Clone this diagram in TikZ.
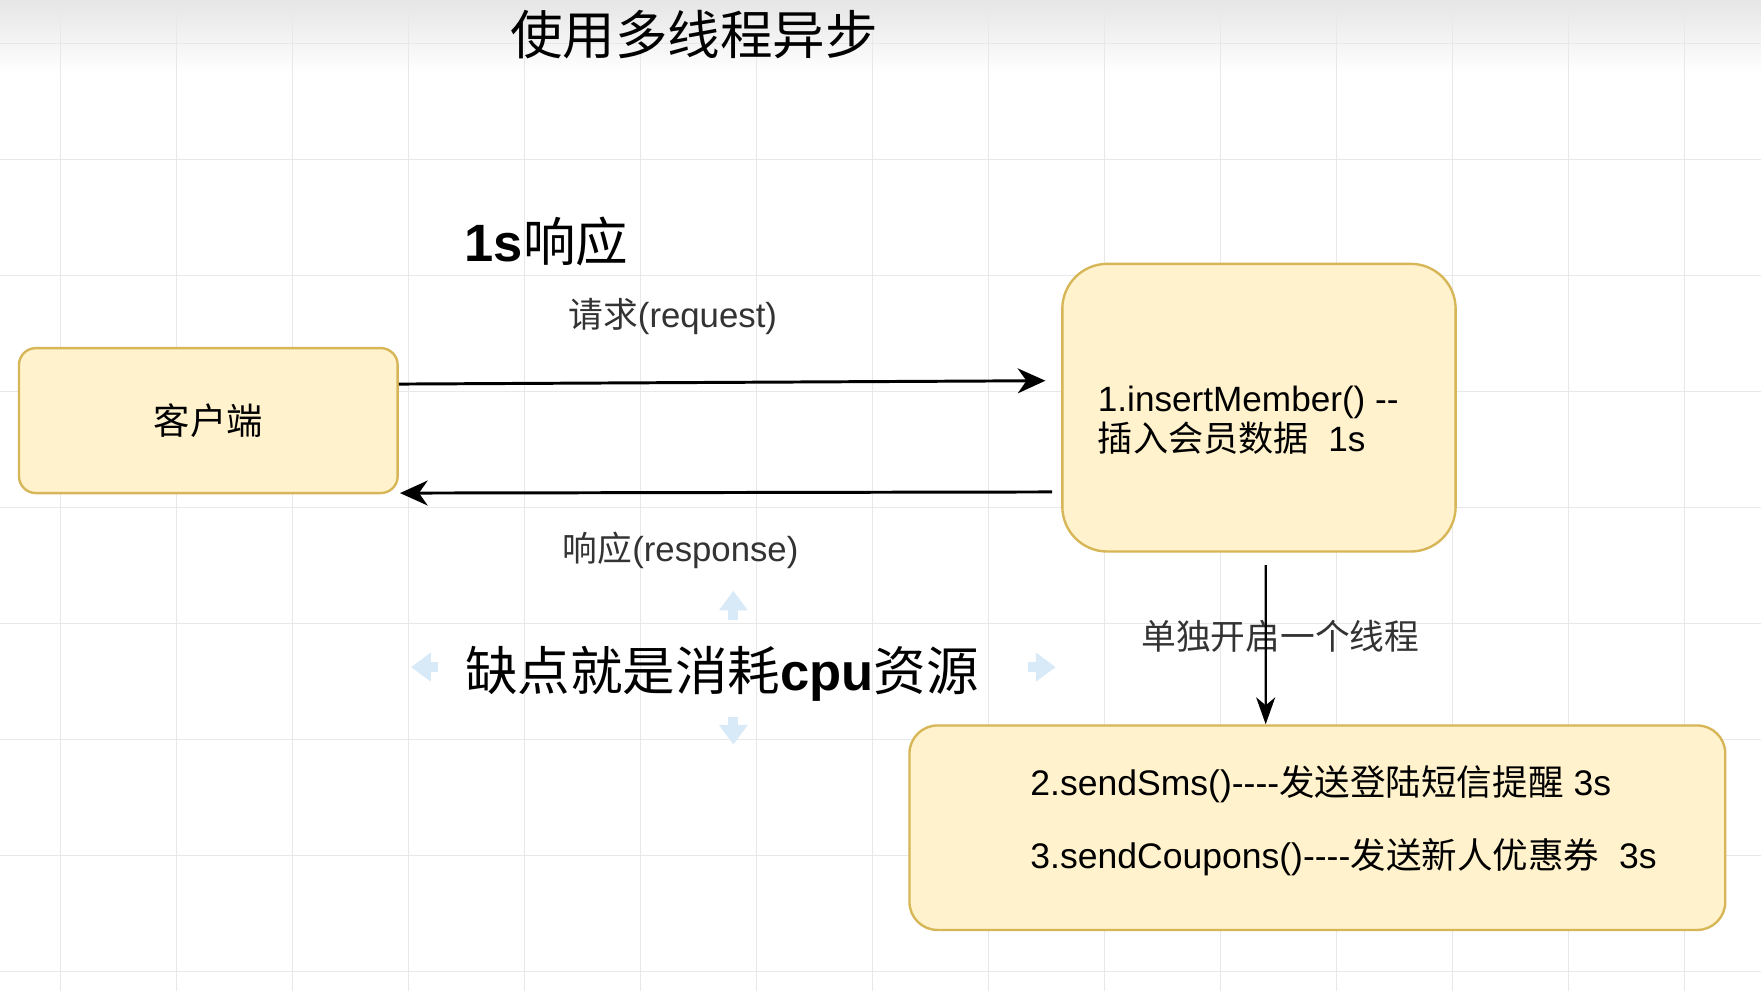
\documentclass[tikz,border=0pt]{standalone}
\usepackage{fontspec}
\setmainfont{Liberation Sans}
\newfontfamily\cjk{Noto Sans CJK SC}
\usepackage{tikz}
\usetikzlibrary{arrows.meta,positioning}
\tikzset{>={Stealth[length=7pt,width=6.3pt,inset=2.2pt]}}
\definecolor{boxfill}{HTML}{FFF2CC}
\definecolor{boxline}{HTML}{D6B656}
\definecolor{gridline}{HTML}{E8E8E8}
\definecolor{hover}{HTML}{D8E9F7}
\newcommand{\zh}[1]{{\cjk #1}}
\newcommand{\hy}{\mbox{-}}

\begin{document}
\begin{tikzpicture}[x=0.01cm, y=-0.01cm,
    box/.style={draw=boxline, fill=boxfill, line width=0.6pt},
    big/.style={font=\fontsize{13.3}{16}\selectfont, inner sep=0pt},
    small/.style={font=\fontsize{8.8}{10.2}\selectfont, text=black!80, inner sep=0pt}]
      \useasboundingbox (0,0) rectangle (1568,882);
      \fill[white] (0,0) rectangle (1568,882);
      \shade[top color=black!10, bottom color=white] (0,0) rectangle (1568,66);

      % grid
      \foreach \t in {0,...,14} {
        \draw[gridline, line width=0.3pt] (54+103.3*\t, 0) -- (54+103.3*\t, 882);
      }
      \foreach \t in {0,...,8} {
        \draw[gridline, line width=0.3pt] (0, 38.5+103.3*\t) -- (1568, 38.5+103.3*\t);
      }

      \node[big](title) at (618, 31) {\zh{使用多线程异步}};
      \node[big, anchor=west](fast) at (413, 215) {\textbf{1s}\zh{响应}};

      \node[box, rounded corners=0.15cm, minimum width=3.37cm, minimum height=1.29cm,
        font=\fontsize{9.2}{11}\selectfont](client) at (185.5, 374.5) {\zh{客户端}};

      \node[box, rounded corners=0.4cm, minimum width=3.5cm, minimum height=2.56cm](insert) at (1121, 363) {};
      \node[small, anchor=west, align=left, text=black, font=\fontsize{8.9}{10.2}\selectfont](inserttxt)
        at ([xshift=0.32cm, yshift=-0.11cm]insert.west)
        {1.insertMember() \hy\hy\\\zh{插入会员数据}\ \ 1s};

      \node[box, rounded corners=0.25cm, minimum width=7.26cm, minimum height=1.82cm](notify) at (1173, 737) {};
      \node[small, anchor=west, align=left, text=black, font=\fontsize{9}{18.5}\selectfont](notifytxt)
        at ([xshift=1.08cm, yshift=0.065cm]notify.west)
        {2.sendSms()\hy\hy\hy\hy\zh{发送登陆短信提醒} 3s\\3.sendCoupons()\hy\hy\hy\hy\zh{发送新人优惠券}\ \ 3s};

      \node[small](reqlbl) at (599, 282) {\zh{请求}(request)};
      \node[small](resplbl) at (606, 490) {\zh{响应}(response)};
      \node[small](threadlbl) at (1140, 567) {\zh{单独开启一个线程}};
      \node[big](cost) at (643, 600) {\zh{缺点就是消耗}\textbf{cpu}\zh{资源}};

      \draw[->, line width=0.75pt] ([yshift=0.325cm]client.east) -- ([xshift=-0.14cm, yshift=0.24cm]insert.west);
      \draw[->, line width=0.75pt] ([xshift=-0.08cm, yshift=-0.75cm]insert.west) -- ([xshift=0.01cm, yshift=-0.645cm]client.east);
      \draw[->, line width=0.6pt, >={Stealth[length=6.8pt,width=4.8pt,inset=2pt]}]
        ([xshift=0.06cm, yshift=-0.11cm]insert.south) -- ([xshift=-0.46cm]notify.north);

      % faint hover arrows round the text
      \foreach \a/\b in {{390,594}/{366,594}, {915,594}/{940,594}, {653,552}/{653,526}, {653,638}/{653,663}} {
        \draw[hover, line width=2.5pt, -{Triangle[length=5pt,width=7pt]}] (\a) -- (\b);
      }
    \end{tikzpicture}
\end{document}
